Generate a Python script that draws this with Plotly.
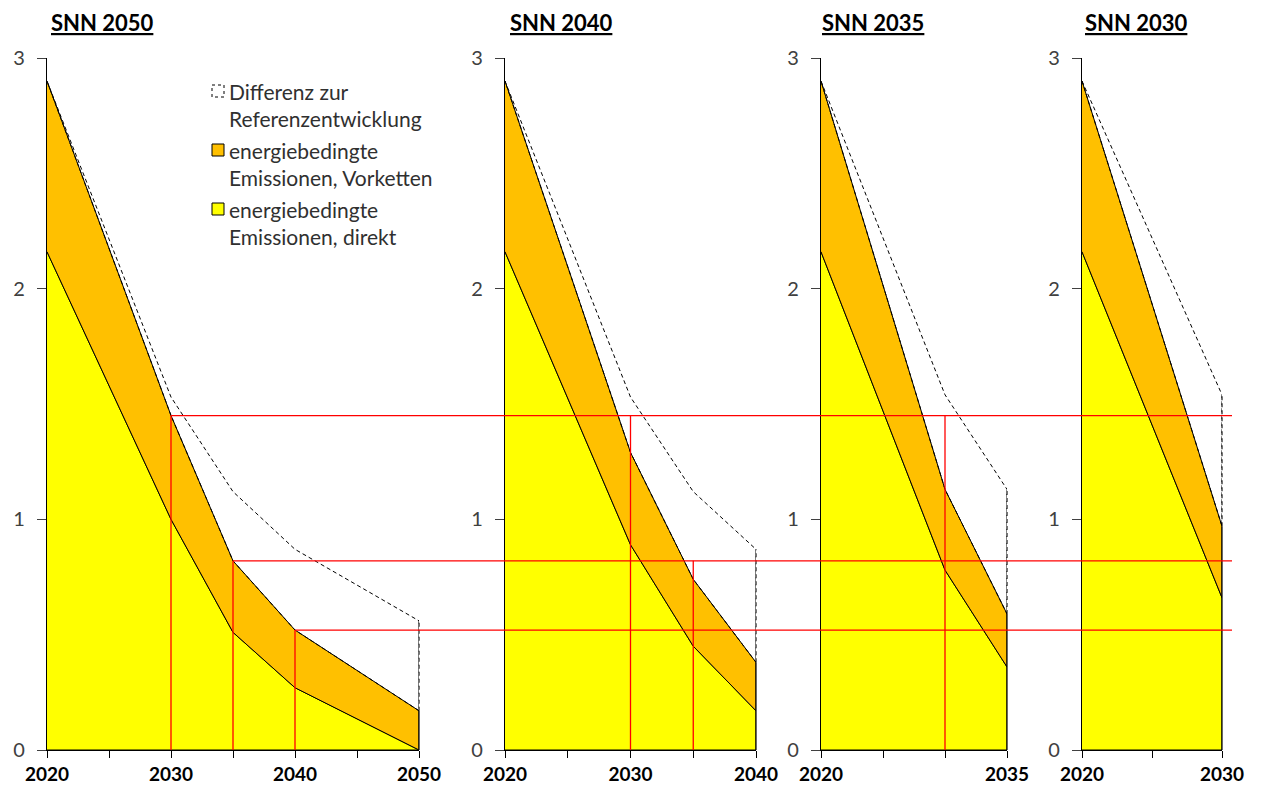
import plotly.graph_objects as go

# ---------------- data ----------------
titles = ["SNN 2050", "SNN 2040", "SNN 2035", "SNN 2030"]

years_2050 = [2020, 2030, 2035, 2040, 2050]
direct_2050 = [2.16, 1.00, 0.51, 0.27, 0.00]
total_2050 = [2.90, 1.45, 0.82, 0.52, 0.17]
ref_2050 = [2.90, 1.53, 1.12, 0.87, 0.56]

years_2040 = [2020, 2030, 2035, 2040]
direct_2040 = [2.16, 0.89, 0.45, 0.17]
total_2040 = [2.90, 1.29, 0.74, 0.38]
ref_2040 = [2.90, 1.53, 1.12, 0.87]

years_2035 = [2020, 2030, 2035]
direct_2035 = [2.16, 0.78, 0.36]
total_2035 = [2.90, 1.13, 0.59]
ref_2035 = [2.90, 1.54, 1.13]

years_2030 = [2020, 2030]
direct_2030 = [2.16, 0.66]
total_2030 = [2.90, 0.97]
ref_2030 = [2.90, 1.54]

ticks_2050 = [2020, 2025, 2030, 2035, 2040, 2045, 2050]
labels_2050 = ["2020", "", "2030", "", "2040", "", "2050"]
ticks_2040 = [2020, 2025, 2030, 2035, 2040]
labels_2040 = ["2020", "", "2030", "", "2040"]
ticks_2035 = [2020, 2025, 2030, 2035]
labels_2035 = ["2020", "", "", "2035"]
ticks_2030 = [2020, 2025, 2030]
labels_2030 = ["2020", "", "2030"]

# reference years for the red guide lines (levels taken from SNN 2050 total)
guide_years = [2030, 2035, 2040]
vlines_per_panel = [[2030, 2035, 2040], [2030, 2035], [2030], []]

legend_items = [
    ("Differenz zur", "Referenzentwicklung"),
    ("energiebedingte", "Emissionen, Vorketten"),
    ("energiebedingte", "Emissionen, direkt"),
]

# ---------------- style ----------------
W, H = 1262, 785
YEL = "#FFFF00"
ORA = "#FFC000"
RED = "#FF0000"
FONT = "Lato"
GREY = "#404040"

def PX(x):
    return x / W

def PY(y):
    return 1 - y / H

panel_px = [(47, 419), (505, 756), (821, 1007), (1082, 1222)]
ydom = [PY(750), PY(58)]

panels = [
    (years_2050, direct_2050, total_2050, ref_2050, ticks_2050, labels_2050),
    (years_2040, direct_2040, total_2040, ref_2040, ticks_2040, labels_2040),
    (years_2035, direct_2035, total_2035, ref_2035, ticks_2035, labels_2035),
    (years_2030, direct_2030, total_2030, ref_2030, ticks_2030, labels_2030),
]

fig = go.Figure()
layout = dict(
    width=W, height=H, margin=dict(l=0, r=0, t=0, b=0, autoexpand=False),
    paper_bgcolor="white", plot_bgcolor="rgba(0,0,0,0)",
    showlegend=False, font=dict(family=FONT, color=GREY),
)

def xdom(i):
    a, b = panel_px[i]
    return [PX(a), PX(b)]

for i, (yrs, d, t, r, tv, tt) in enumerate(panels):
    sfx = "" if i == 0 else str(i + 1)
    xa, ya = "x" + sfx, "y" + sfx
    # direct emissions (yellow)
    fig.add_trace(go.Scatter(
        x=yrs + [yrs[-1], yrs[0]], y=d + [0, 0], fill="toself", fillcolor=YEL,
        mode="lines", line=dict(color="black", width=1), xaxis=xa, yaxis=ya,
        hoverinfo="skip"))
    # upstream emissions (orange)
    fig.add_trace(go.Scatter(
        x=yrs + yrs[::-1], y=t + d[::-1], fill="toself", fillcolor=ORA,
        mode="lines", line=dict(color="black", width=1), xaxis=xa, yaxis=ya,
        hoverinfo="skip"))
    # difference to reference (dashed outline)
    fig.add_trace(go.Scatter(
        x=yrs + yrs[::-1], y=r + t[::-1],
        mode="lines", line=dict(color="black", width=1, dash="4px,3px"),
        xaxis=xa, yaxis=ya, hoverinfo="skip"))

    layout["xaxis" + sfx] = dict(
        domain=xdom(i), range=[yrs[0], yrs[-1]], anchor=ya, automargin=False,
        tickmode="array", tickvals=tv, ticktext=tt,
        ticks="outside", ticklen=7, tickwidth=1.2, tickcolor="black",
        showline=True, linecolor="black", linewidth=1.3,
        showgrid=False, zeroline=False, fixedrange=True,
        ticklabelstandoff=0,
        tickfont=dict(family=FONT, size=19, color="black", weight="bold"),
    )
    layout["yaxis" + sfx] = dict(
        domain=ydom, range=[0, 3], anchor=xa, automargin=False,
        tickmode="array", tickvals=[0, 1, 2, 3],
        ticks="outside", ticklen=9, tickwidth=1.2, tickcolor=GREY,
        showline=True, linecolor="black", linewidth=1.3,
        showgrid=False, zeroline=False, fixedrange=True,
        ticklabelstandoff=8,
        tickfont=dict(family=FONT, size=20, color=GREY),
    )

fig.update_layout(**layout)

def to_paper(i, year):
    yrs = panels[i][0]
    a, b = xdom(i)
    return a + (year - yrs[0]) / (yrs[-1] - yrs[0]) * (b - a)

shapes = []
# right-hand closing edges of each panel (unclipped so they keep full width)
for i, (yrs, d, t, r, tv, tt) in enumerate(panels):
    sfx = "" if i == 0 else str(i + 1)
    xe = to_paper(i, yrs[-1])
    shapes.append(dict(type="line", xref="paper", yref="y" + sfx,
                       x0=xe, x1=xe, y0=0, y1=t[-1],
                       line=dict(color="black", width=1.2), layer="above"))
    shapes.append(dict(type="line", xref="paper", yref="y" + sfx,
                       x0=xe, x1=xe, y0=t[-1], y1=r[-1],
                       line=dict(color="black", width=1.1, dash="4px,3px"), layer="above"))

# ---------------- red guide lines ----------------
levels = {yr: total_2050[years_2050.index(yr)] for yr in guide_years}
for yr in guide_years:
    shapes.append(dict(type="line", xref="paper", yref="y",
                       x0=to_paper(0, yr), x1=PX(1232), y0=levels[yr], y1=levels[yr],
                       line=dict(color=RED, width=1.3), layer="above"))
for i, vl in enumerate(vlines_per_panel):
    sfx = "" if i == 0 else str(i + 1)
    for yr in vl:
        shapes.append(dict(type="line", xref="x" + sfx, yref="y" + sfx,
                           x0=yr, x1=yr, y0=0, y1=levels[yr],
                           line=dict(color=RED, width=1.3), layer="above"))

# ---------------- legend (manual) ----------------
sq_fill = ["white", ORA, YEL]
sq_dash = ["dot", "solid", "solid"]
sq_top = [85, 144, 203]
line_y = [(92, 119), (151, 178), (210, 237)]
annotations = []
for k, (l1, l2) in enumerate(legend_items):
    y0 = sq_top[k]
    shapes.append(dict(type="rect", xref="paper", yref="paper",
                       x0=PX(212), x1=PX(224), y0=PY(y0), y1=PY(y0 + 12),
                       fillcolor=sq_fill[k], line=dict(color="black", width=1, dash=sq_dash[k])))
    for txt, py in zip((l1, l2), line_y[k]):
        annotations.append(dict(xref="paper", yref="paper", x=PX(227), y=PY(py),
                                xanchor="left", yanchor="middle", showarrow=False, text=txt,
                                font=dict(family=FONT, size=21, color="#303030")))

# ---------------- titles ----------------
title_px = [49, 508, 820, 1083]
for i, t in enumerate(titles):
    annotations.append(dict(xref="paper", yref="paper", x=PX(title_px[i]), y=PY(23),
                            xanchor="left", yanchor="middle", showarrow=False,
                            text=f"<b><u>{t}</u></b>",
                            font=dict(family=FONT, size=22, color="black")))

fig.update_layout(shapes=shapes, annotations=annotations)
fig.write_html(
    "out.html",
    config={"displayModeBar": False},
    post_script="document.body.style.margin='0';document.body.style.overflow='hidden';",
)
